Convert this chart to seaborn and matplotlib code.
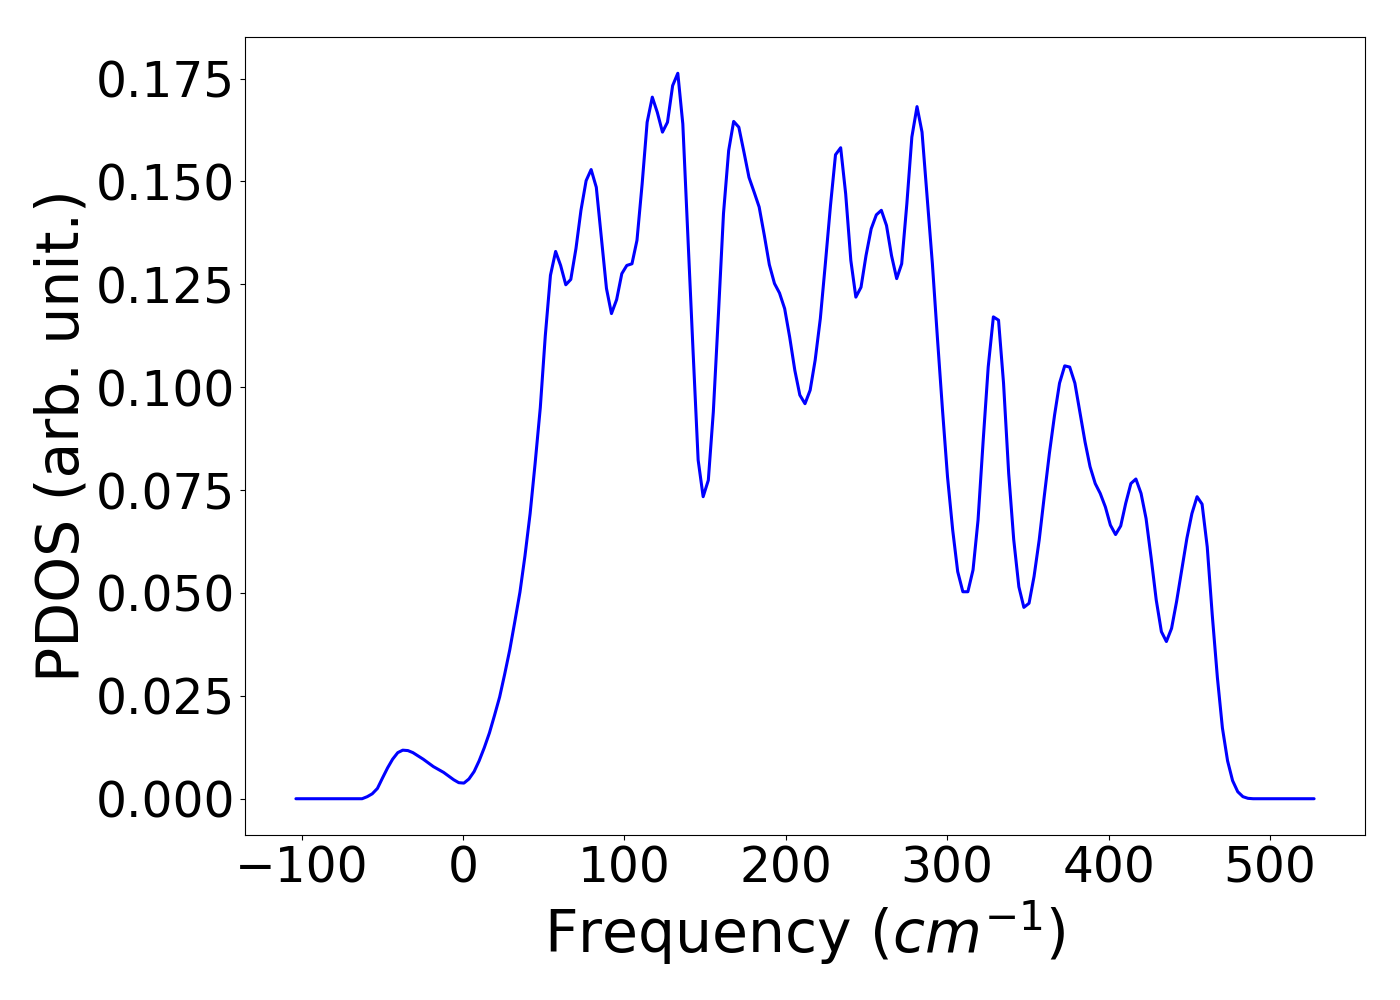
import matplotlib
matplotlib.use("Agg")
import matplotlib.pyplot as plt
import seaborn as sns

# phonon PDOS
freq = [-103.5, -62.5, -59.3, -56.2, -53.0, -49.9, -46.7, -43.6, -40.4, -37.3,
        -34.1, -31.0, -27.8, -24.6, -21.5, -18.3, -15.2, -12.0, -8.9, -5.7,
        -2.6, 0.6, 3.7, 6.9, 10.0, 13.2, 16.4, 19.5, 22.7, 25.8,
        29.0, 32.1, 35.3, 38.4, 41.6, 44.7, 47.9, 51.0, 54.2, 57.4,
        60.5, 63.7, 66.8, 70.0, 73.1, 76.3, 79.4, 82.6, 85.7, 88.9,
        92.0, 95.2, 98.4, 101.5, 104.7, 107.8, 111.0, 114.1, 117.3, 120.4,
        123.6, 126.7, 129.9, 133.1, 136.2, 139.4, 142.5, 145.7, 148.8, 152.0,
        155.1, 158.3, 161.4, 164.6, 167.7, 170.9, 174.1, 177.2, 180.4, 183.5,
        186.7, 189.8, 193.0, 196.1, 199.3, 202.4, 205.6, 208.7, 211.9, 215.1,
        218.2, 221.4, 224.5, 227.7, 230.8, 234.0, 237.1, 240.3, 243.4, 246.6,
        249.7, 252.9, 256.1, 259.2, 262.4, 265.5, 268.7, 271.8, 275.0, 278.1,
        281.3, 284.4, 287.6, 290.8, 293.9, 297.1, 300.2, 303.4, 306.5, 309.7,
        312.8, 316.0, 319.1, 322.3, 325.4, 328.6, 331.8, 334.9, 338.1, 341.2,
        344.4, 347.5, 350.7, 353.8, 357.0, 360.1, 363.3, 366.5, 369.6, 372.8,
        375.9, 379.1, 382.2, 385.4, 388.5, 391.7, 394.8, 398.0, 401.1, 404.3,
        407.5, 410.6, 413.8, 416.9, 420.1, 423.2, 426.4, 429.5, 432.7, 435.8,
        439.0, 442.1, 445.3, 448.5, 451.6, 454.8, 457.9, 461.1, 464.2, 467.4,
        470.5, 473.7, 476.8, 480.0, 483.2, 486.3, 489.5, 527.3]

pdos = [0.0, 0.0, 0.0005, 0.0012, 0.0025, 0.0050, 0.0075, 0.0096, 0.0112, 0.0118,
        0.0117, 0.0112, 0.0104, 0.0096, 0.0087, 0.0078, 0.0071, 0.0064, 0.0055, 0.0046,
        0.0039, 0.0038, 0.0048, 0.0066, 0.0092, 0.0124, 0.0160, 0.0202, 0.0247, 0.0302,
        0.0362, 0.0430, 0.0502, 0.0590, 0.0693, 0.0815, 0.0950, 0.1125, 0.1272, 0.1330,
        0.1296, 0.1249, 0.1262, 0.1337, 0.1430, 0.1502, 0.1529, 0.1486, 0.1365, 0.1240,
        0.1179, 0.1213, 0.1276, 0.1296, 0.1300, 0.1357, 0.1494, 0.1644, 0.1705, 0.1668,
        0.1620, 0.1644, 0.1733, 0.1763, 0.1640, 0.1362, 0.1092, 0.0823, 0.0734, 0.0774,
        0.0940, 0.1180, 0.1422, 0.1575, 0.1646, 0.1632, 0.1571, 0.1510, 0.1474, 0.1438,
        0.1369, 0.1298, 0.1252, 0.1229, 0.1191, 0.1122, 0.1041, 0.0981, 0.0960, 0.0993,
        0.1066, 0.1167, 0.1300, 0.1442, 0.1565, 0.1582, 0.1470, 0.1308, 0.1219, 0.1243,
        0.1320, 0.1385, 0.1419, 0.1430, 0.1393, 0.1320, 0.1264, 0.1300, 0.1446, 0.1608,
        0.1682, 0.1620, 0.1462, 0.1301, 0.1122, 0.0944, 0.0782, 0.0653, 0.0552, 0.0503,
        0.0503, 0.0556, 0.0677, 0.0871, 0.1049, 0.1171, 0.1163, 0.1010, 0.0790, 0.0630,
        0.0515, 0.0465, 0.0475, 0.0540, 0.0629, 0.0734, 0.0839, 0.0932, 0.1010, 0.1052,
        0.1049, 0.1010, 0.0940, 0.0867, 0.0807, 0.0766, 0.0742, 0.0709, 0.0665, 0.0642,
        0.0663, 0.0718, 0.0766, 0.0777, 0.0742, 0.0681, 0.0584, 0.0483, 0.0406, 0.0382,
        0.0414, 0.0479, 0.0556, 0.0633, 0.0693, 0.0734, 0.0716, 0.0612, 0.0447, 0.0294,
        0.0172, 0.0092, 0.0044, 0.0017, 0.0005, 0.0001, 0.0, 0.0]

sns.set_style("ticks", {"axes.edgecolor": "black", "xtick.color": "black",
                        "ytick.color": "black", "text.color": "black",
                        "axes.labelcolor": "black"})
plt.rcParams['font.family'] = ['DejaVu Sans']

fig, ax = plt.subplots(figsize=(14, 10), dpi=100)
sns.lineplot(x=freq, y=pdos, color='blue', linewidth=2.2, sort=False,
             estimator=None, ax=ax)
ax.set_xlabel('Frequency ($cm^{-1}$)', fontsize=42)
ax.set_ylabel('PDOS (arb. unit.)', fontsize=42)
ax.set_yticks([0, 0.025, 0.05, 0.075, 0.1, 0.125, 0.15, 0.175])
ax.tick_params(labelsize=35, length=3.5, width=0.8)
plt.subplots_adjust(left=0.175, right=0.975, top=0.963, bottom=0.165)
plt.savefig('out.png', dpi=100)
